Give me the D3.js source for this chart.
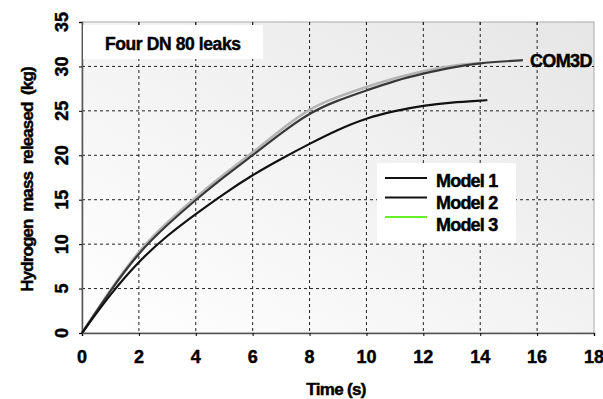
<!DOCTYPE html>
<html>
<head>
<meta charset="utf-8">
<script src="https://cdn.jsdelivr.net/npm/d3@7"></script>
<style>
  body { margin: 0; background: #fff; }
  svg text { font-family: 'Liberation Sans', Arial, sans-serif; font-weight: bold; fill: #000; stroke: #000; stroke-width: 0.45px; }
</style>
</head>
<body>
<div id="chart"></div>
<script>
// data
const xTicks = [0, 2, 4, 6, 8, 10, 12, 14, 16, 18];
const yTicks = [0, 5, 10, 15, 20, 25, 30, 35];

const time1 = [0, 1, 2, 3, 4, 5, 6, 7, 8, 9, 10, 11, 12, 13, 14, 14.25];
const model1 = [0, 4.4, 8.1, 11.0, 13.4, 15.7, 17.8, 19.6, 21.3, 22.9, 24.2, 25.0, 25.6, 25.95, 26.15, 26.2];

const time2 = [0, 1, 2, 3, 4, 5, 6, 7, 8, 9, 10, 11, 12, 13, 14, 15, 15.5];
const model2 = [0, 4.8, 9.1, 12.2, 15.0, 17.6, 20.0, 22.5, 24.8, 26.2, 27.3, 28.4, 29.2, 29.9, 30.4, 30.6, 30.7];

const time3 = [0, 1, 2, 3, 4, 5, 6, 7, 8, 9, 10, 11, 12, 13, 14];
const model3 = [0, 4.9, 9.3, 12.5, 15.3, 17.9, 20.3, 22.9, 25.3, 26.6, 27.7, 28.7, 29.5, 30.1, 30.4];

const legendNames = ['Model 1', 'Model 2', 'Model 3'];
const legendColors = ['#111', '#111', '#66ee22'];

const width = 603, height = 399;
const margin = { left: 82, right: 9, top: 22, bottom: 66 };
const innerWidth = width - margin.left - margin.right;
const innerHeight = height - margin.top - margin.bottom;

const svg = d3.select('#chart')
  .append('svg')
    .attr('width', width)
    .attr('height', height);

const grad = svg.append('defs').append('linearGradient')
  .attr('id', 'bg')
  .attr('x1', '0%').attr('y1', '100%')
  .attr('x2', '100%').attr('y2', '0%');
grad.append('stop').attr('offset', '0%').attr('stop-color', '#ffffff');
grad.append('stop').attr('offset', '100%').attr('stop-color', '#e6e6e6');

const g = svg.append('g')
  .attr('transform', 'translate(' + margin.left + ',' + margin.top + ')');

const x = d3.scaleLinear().domain([0, 18]).range([0, innerWidth]);
const y = d3.scaleLinear().domain([0, 35]).range([innerHeight, 0]);

// plot area
g.append('rect')
  .attr('width', innerWidth)
  .attr('height', innerHeight)
  .attr('fill', 'url(#bg)')
  .attr('stroke', '#aaa');

// grid
g.selectAll('.vgrid')
  .data(xTicks.slice(1, -1))
  .join('line')
    .attr('class', 'vgrid')
    .attr('x1', d => x(d)).attr('x2', d => x(d))
    .attr('y1', 0).attr('y2', innerHeight)
    .attr('stroke', '#222')
    .attr('stroke-dasharray', '3,3');
g.selectAll('.hgrid')
  .data(yTicks.slice(1, -1))
  .join('line')
    .attr('class', 'hgrid')
    .attr('x1', 0).attr('x2', innerWidth)
    .attr('y1', d => y(d)).attr('y2', d => y(d))
    .attr('stroke', '#222')
    .attr('stroke-dasharray', '3,3');

// axes (lines and ticks only, labels drawn below)
const xAxis = g.append('g')
  .attr('transform', 'translate(0,' + innerHeight + ')')
  .call(d3.axisBottom(x).tickValues(xTicks).tickSize(3).tickFormat(''));
xAxis.select('.domain').attr('stroke', '#555').attr('stroke-width', 1.5);

const yAxis = g.append('g')
  .call(d3.axisLeft(y).tickValues(yTicks).tickSize(3).tickFormat(''));
yAxis.select('.domain').attr('stroke', '#555').attr('stroke-width', 1.5);

g.selectAll('.xlab')
  .data(xTicks)
  .join('text')
    .attr('class', 'xlab')
    .attr('x', d => x(d))
    .attr('y', innerHeight + 30)
    .attr('text-anchor', 'middle')
    .attr('font-size', 18)
    .text(d => d);

// rotated y tick labels: one rotated group, labels laid out along its x
const yLabels = svg.append('g')
  .attr('transform', 'translate(' + (margin.left - 14) + ',' + margin.top + ') rotate(-90)');
yLabels.selectAll('text')
  .data(yTicks)
  .join('text')
    .attr('x', d => -y(d))
    .attr('y', 0)
    .attr('text-anchor', 'middle')
    .attr('font-size', 18)
    .text(d => d);

// top tick marks
g.selectAll('.ttick')
  .data(xTicks.slice(1, -1))
  .join('line')
    .attr('class', 'ttick')
    .attr('x1', d => x(d)).attr('x2', d => x(d))
    .attr('y1', 0).attr('y2', 3)
    .attr('stroke', '#222');

// curves
const line = d3.line()
  .x(d => x(d[0]))
  .y(d => y(d[1]))
  .curve(d3.curveBasis);

g.append('path')
  .datum(d3.zip(time3, model3))
  .attr('fill', 'none')
  .attr('stroke', '#b4b4b4')
  .attr('stroke-width', 2.5)
  .attr('d', line);
g.append('path')
  .datum(d3.zip(time2, model2))
  .attr('fill', 'none')
  .attr('stroke', '#383838')
  .attr('stroke-width', 2.2)
  .attr('d', line);
g.append('path')
  .datum(d3.zip(time1, model1))
  .attr('fill', 'none')
  .attr('stroke', '#111')
  .attr('stroke-width', 2.2)
  .attr('d', line);

// COM3D label
g.append('text')
  .attr('x', x(time2[time2.length - 1]) + 7)
  .attr('y', y(model2[model2.length - 1]) + 7)
  .attr('font-size', 18)
  .attr('letter-spacing', -0.6)
  .text('COM3D');

// title box
g.append('rect')
  .attr('x', 1).attr('y', 3)
  .attr('width', 180).attr('height', 34)
  .attr('fill', '#fff');
g.append('text')
  .attr('x', 23).attr('y', 28)
  .attr('font-size', 17.5)
  .attr('letter-spacing', -0.4)
  .text('Four DN 80 leaks');

// legend
const legend = g.append('g')
  .attr('transform', 'translate(' + (377 - margin.left) + ',' + (163 - margin.top) + ')');
legend.append('rect')
  .attr('width', 139).attr('height', 80)
  .attr('fill', '#fff');
legend.selectAll('.lline')
  .data(legendNames)
  .join('line')
    .attr('class', 'lline')
    .attr('x1', 8).attr('x2', 50)
    .attr('y1', (d, i) => 15 + i * 19.5)
    .attr('y2', (d, i) => 15 + i * 19.5)
    .attr('stroke', (d, i) => legendColors[i])
    .attr('stroke-width', 2.2);
legend.selectAll('.ltext')
  .data(legendNames)
  .join('text')
    .attr('class', 'ltext')
    .attr('x', 59)
    .attr('y', (d, i) => 24 + i * 22.2)
    .attr('font-size', 18)
    .attr('letter-spacing', -0.8)
    .text(d => d);

// axis titles
svg.append('text')
  .attr('x', margin.left + x(9) - 2)
  .attr('y', 395)
  .attr('text-anchor', 'middle')
  .attr('font-size', 17)
  .attr('letter-spacing', -0.7)
  .text('Time (s)');
svg.append('text')
  .attr('transform', 'translate(33,' + (margin.top + innerHeight / 2 + 2) + ') rotate(-90)')
  .attr('text-anchor', 'middle')
  .attr('font-size', 17)
  .attr('letter-spacing', -0.9)
  .style('white-space', 'pre')
  .text('Hydrogen  mass  released  (kg)');
</script>
</body>
</html>
